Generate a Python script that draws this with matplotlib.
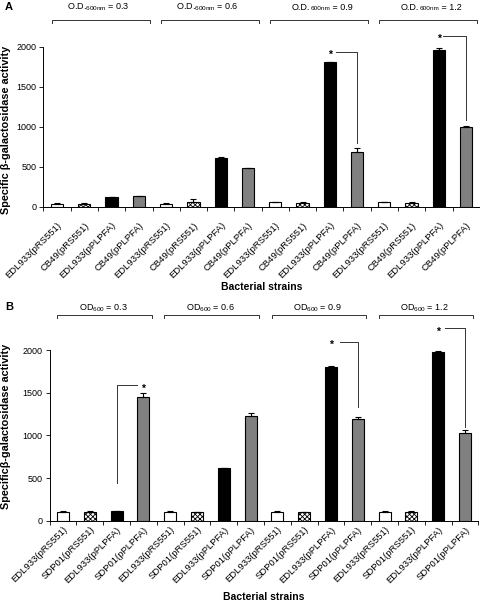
import numpy as np
import matplotlib
matplotlib.use('Agg')
import matplotlib.pyplot as plt

plt.rcParams['font.family'] = ['Liberation Sans', 'DejaVu Sans']
plt.rcParams['mathtext.fontset'] = 'custom'
plt.rcParams['mathtext.rm'] = 'Liberation Sans'
plt.rcParams['mathtext.it'] = 'Liberation Sans:italic'
plt.rcParams['hatch.linewidth'] = 0.6
plt.rcParams['hatch.color'] = '#555555'

# Panel A data
labels_a = ['EDL933(pRS551)', 'CB49(pRS551)', 'EDL933(pPLPFA)', 'CB49(pPLPFA)'] * 4
values_a = [40, 38, 118, 132,
            40, 58, 612, 482,
            60, 50, 1805, 680,
            60, 52, 1962, 1000]
errors_a = [10, 3, 3, 3,
            10, 38, 8, 3,
            3, 3, 8, 50,
            3, 8, 18, 8]
groups_a = [r'O.D.$_{\mathrm{600nm}}$ = 0.3', r'O.D.$_{\mathrm{600nm}}$ = 0.6',
            ('O.D.', '600nm', ' = 0.9'), ('O.D.', '600nm', ' = 1.2')]

# Panel B data
labels_b = ['EDL933(pRS551)', 'SDP01(pRS551)', 'EDL933(pPLPFA)', 'SDP01(pPLPFA)'] * 4
values_b = [105, 105, 112, 1452,
            105, 100, 612, 1232,
            105, 100, 1800, 1190,
            105, 105, 1972, 1030]
errors_b = [6, 6, 3, 40,
            6, 3, 8, 30,
            3, 3, 8, 30,
            3, 6, 15, 30]
groups_b = [r'OD$_{\mathrm{600}}$ = 0.3', r'OD$_{\mathrm{600}}$ = 0.6',
            r'OD$_{\mathrm{600}}$ = 0.9', r'OD$_{\mathrm{600}}$ = 1.2']

faces = ['white', 'white', 'black', '#808080']
hatches = [None, 'xxxxxxx', None, None]

W, H = 480, 603
fig = plt.figure(figsize=(W / 100, H / 100), dpi=100)


def px_axes(x0, x1, ytop, ybot):
    return fig.add_axes([x0 / W, 1 - ybot / H, (x1 - x0) / W, (ybot - ytop) / H])


def sub_label(ax, x0, y, parts, fs):
    main, sub, rest = parts
    t1 = ax.text(x0, y, main, ha='left', va='center', fontsize=fs, clip_on=False)
    t2 = ax.annotate(sub, xy=(1, 0), xycoords=t1, xytext=(0.3, 0.6),
                     textcoords='offset points', ha='left', va='bottom',
                     fontsize=fs * 0.7, annotation_clip=False)
    ax.annotate(rest, xy=(1, 0), xycoords=(t2, t1), ha='left', va='bottom',
                fontsize=fs, annotation_clip=False)


def draw_panel(ax, labels, values, errors, groups, brk_y, brk_tick, grp_y, brk_x, lpad):
    x = np.arange(len(values))
    for i in range(len(values)):
        ax.bar(x[i], values[i], width=0.45, color=faces[i % 4], hatch=hatches[i % 4],
               edgecolor='black', linewidth=0.8, zorder=2)
    ax.errorbar(x, values, yerr=[np.zeros(len(errors)), errors], fmt='none',
                ecolor='black', elinewidth=0.8, capsize=2.5, capthick=0.8, zorder=3)
    ax.set_xlim(-0.5, len(values) - 0.5)
    ax.set_ylim(0, 2000)
    ax.set_yticks([0, 500, 1000, 1500, 2000])
    ax.set_xticks(x)
    ax.set_xticklabels(labels, rotation=45, ha='right', va='top', rotation_mode='anchor',
                       fontsize=6.8)
    ax.set_xticks(np.arange(-0.5, len(values), 1.0), minor=True)
    ax.tick_params(axis='x', which='major', length=0, pad=lpad)
    ax.tick_params(axis='x', which='minor', length=3, width=0.6)
    ax.tick_params(axis='y', length=3, width=0.6, labelsize=6.5, pad=2)
    for s in ['top', 'right']:
        ax.spines[s].set_visible(False)
    for s in ['left', 'bottom']:
        ax.spines[s].set_linewidth(0.7)
    for g, name in enumerate(groups):
        x0 = 4 * g + brk_x[0]
        x1 = 4 * g + brk_x[1]
        ax.plot([x0, x0, x1, x1], [brk_tick, brk_y, brk_y, brk_tick], color='#333333',
                lw=0.7, clip_on=False)
        if isinstance(name, tuple):
            sub_label(ax, 4 * g + 0.6, grp_y, name, 6.5)
        else:
            ax.text(4 * g + 1.5, grp_y, name, ha='center', va='center', fontsize=6.5,
                    clip_on=False)


def sig(ax, xs, ys, star_x, star_y):
    ax.plot(xs, ys, color='#333333', lw=0.7, clip_on=False)
    ax.text(star_x, star_y, '*', ha='center', va='baseline', fontsize=7.5,
            fontweight='bold', clip_on=False)


# Panel A
axa = px_axes(43.4, 479.8, 46.7, 206.7)
draw_panel(axa, labels_a, values_a, errors_a, groups_a, 2334, 2296, 2492, (-0.2, 3.4), 10)
sig(axa, [10.23, 11, 11], [1937, 1937, 792], 10, 1859)
sig(axa, [14.14, 15, 15], [2130, 2130, 1084], 14, 2059)

# Panel B
axb = px_axes(49.6, 478.4, 350, 520.7)
draw_panel(axb, labels_b, values_b, errors_b, groups_b, 2411, 2370, 2493, (-0.22, 3.31), 3)
sig(axb, [2.75, 2, 2], [1590, 1590, 438], 3, 1508)
sig(axb, [10.34, 11, 11], [2098, 2098, 1336], 10, 2030)
sig(axb, [14.25, 15, 15], [2262, 2262, 1102], 14, 2176)

fig.text(5 / W, 1 - 7 / H, 'A', fontsize=8, fontweight='bold', ha='left', va='center')
fig.text(5 / W, 1 - 307 / H, 'B', fontsize=8, fontweight='bold', ha='left', va='center')
fig.text(6 / W, 1 - 130 / H, 'Specific \u03b2-galactosidase activity', rotation=90,
         fontsize=7.8, fontweight='bold', ha='center', va='center')
fig.text(6 / W, 1 - 426 / H, 'Specific\u03b2-galactosidase activity', rotation=90,
         fontsize=7.8, fontweight='bold', ha='center', va='center')
fig.text(262 / W, 1 - 287 / H, 'Bacterial strains', fontsize=7.5, fontweight='bold',
         ha='center', va='center')
fig.text(264 / W, 1 - 597 / H, 'Bacterial strains', fontsize=7.5, fontweight='bold',
         ha='center', va='center')

fig.savefig('out.png', dpi=100)
